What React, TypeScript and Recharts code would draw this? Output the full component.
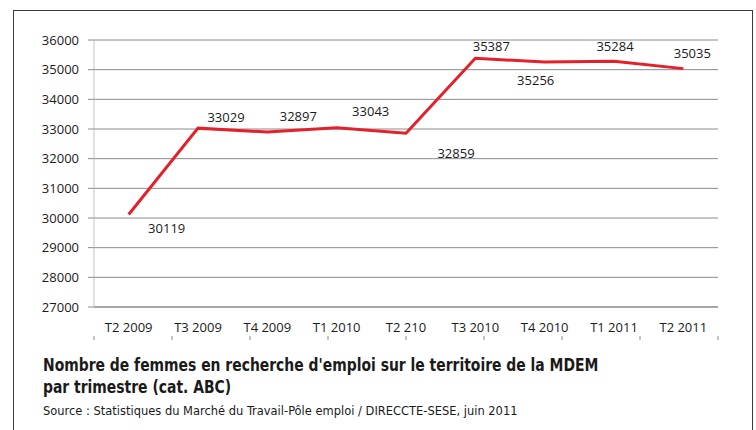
import React from "react";
import { CartesianGrid, LabelList, Line, LineChart, XAxis, YAxis } from "recharts";

const quarters = ["T2 2009", "T3 2009", "T4 2009", "T1 2010", "T2 210", "T3 2010", "T4 2010", "T1 2011", "T2 2011"];
const jobSeekers = [30119, 33029, 32897, 33043, 32859, 35387, 35256, 35284, 35035];
const yTicks = [27000, 28000, 29000, 30000, 31000, 32000, 33000, 34000, 35000, 36000];
const edgeTicks = [0, 1, 2, 3, 4, 5, 6, 7, 8, 9];

const data = quarters.map((q, i) => ({ q, value: jobSeekers[i] }));

// where Excel left each data label, relative to its point
const labelShift = [
  [38, 14], [28, -11], [31, -16], [34, -16], [50, 20],
  [16, -12], [-9, 18], [1, -15], [9, -15],
];

const FONT = "'Open Sans', 'Noto Sans', sans-serif";
const TITLE_FONT = "'DejaVu Sans Condensed', 'Liberation Sans Narrow', sans-serif";

function PointLabel(props: any) {
  const { x, y, index, value } = props;
  const [dx, dy] = labelShift[index] ?? [0, -12];
  return (
    <text x={x + dx} y={y + dy} dy="0.355em" textAnchor="middle" fontSize={13} fontFamily={FONT} fill="#1a1a1a">
      {value}
    </text>
  );
}

export default function App() {
  return (
    <div style={{ position: "absolute", left: 0, top: 0, width: 756, height: 430, background: "#fff", overflow: "hidden" }}>
      <div
        style={{
          position: "absolute",
          left: 13,
          top: 10,
          width: 740,
          height: 440,
          border: "1.5px solid #3a3a3a",
          boxSizing: "border-box",
        }}
      />
      <div style={{ position: "absolute", left: 0, top: 0 }}>
        <LineChart width={756} height={340} data={data} margin={{ top: 40, right: 38, bottom: 3, left: 34 }}>
          <CartesianGrid vertical={false} stroke="#8a8a8a" strokeWidth={1} />
          <XAxis
            xAxisId="edges"
            type="number"
            domain={[0, 9]}
            ticks={edgeTicks}
            tick={() => <g />}
            height={1}
            axisLine={false}
            tickLine={{ stroke: "#8a8a8a" }}
            tickSize={5}
          />
          <XAxis
            dataKey="q"
            scale="band"
            height={29}
            axisLine={{ stroke: "#8a8a8a" }}
            tickLine={false}
            tickSize={6}
            tickMargin={10}
            interval={0}
            tick={{ fontSize: 13, fontFamily: FONT, fill: "#1a1a1a" }}
          />
          <YAxis
            width={60}
            domain={[27000, 36000]}
            ticks={yTicks}
            interval={0}
            axisLine={{ stroke: "#c4c4c4" }}
            tickLine={{ stroke: "#8a8a8a" }}
            tickSize={6}
            tickMargin={9}
            tick={{ fontSize: 13, fontFamily: FONT, fill: "#1a1a1a" }}
          />
          <Line
            type="linear"
            dataKey="value"
            stroke="#e4202a"
            strokeWidth={3}
            dot={false}
            isAnimationActive={false}
          >
            <LabelList dataKey="value" content={<PointLabel />} />
          </Line>
        </LineChart>
      </div>
      <div
        style={{
          position: "absolute",
          left: 43,
          top: 354,
          fontFamily: TITLE_FONT,
          fontWeight: "bold",
          fontSize: 17,
          lineHeight: "22px",
          color: "#1a1a1a",
          whiteSpace: "nowrap",
          transform: "scaleX(0.91)",
          transformOrigin: "left top",
        }}
      >
        Nombre de femmes en recherche d'emploi sur le territoire de la MDEM
        <br />
        par trimestre (cat. ABC)
      </div>
      <div
        style={{
          position: "absolute",
          left: 43,
          top: 404,
          fontFamily: TITLE_FONT,
          fontSize: 12.5,
          lineHeight: "14px",
          color: "#1a1a1a",
          whiteSpace: "nowrap",
          transform: "scaleX(1.02)",
          transformOrigin: "left top",
        }}
      >
        Source : Statistiques du Marché du Travail-Pôle emploi / DIRECCTE-SESE, juin 2011
      </div>
    </div>
  );
}
